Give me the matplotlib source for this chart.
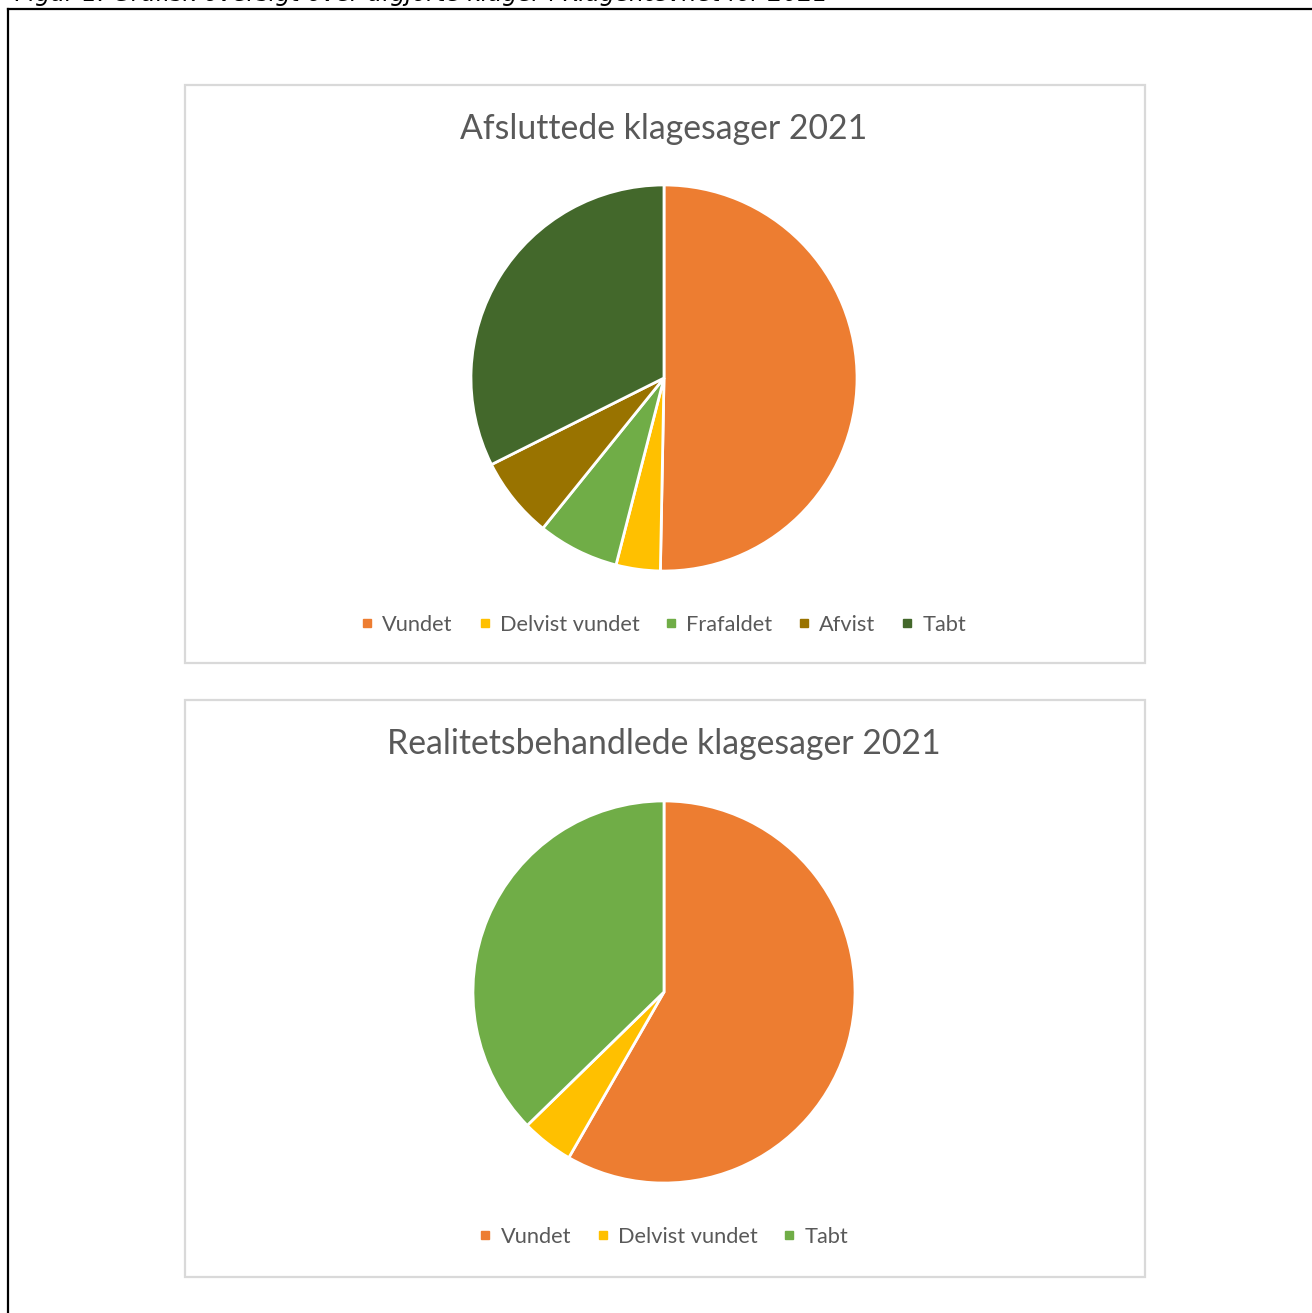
import matplotlib.pyplot as plt
from matplotlib.patches import Rectangle
from matplotlib.lines import Line2D

W, H = 1312, 1313
TEXT_GRAY = "#595959"
BORDER = "#d9d9d9"
FONT = ["Lato", "DejaVu Sans"]

# data (shares, percent)
labels_1 = ["Vundet", "Delvist vundet", "Frafaldet", "Afvist", "Tabt"]
values_1 = [50.3, 3.7, 6.8, 6.8, 32.4]
colors_1 = ["#ed7d31", "#ffc000", "#70ad47", "#997300", "#43682b"]

labels_2 = ["Vundet", "Delvist vundet", "Tabt"]
values_2 = [58.3, 4.4, 37.3]
colors_2 = ["#ed7d31", "#ffc000", "#70ad47"]

caption = "Figur 1: Grafisk oversigt over afgjorte klager i Klagenævnet for 2021"
title_1 = "Afsluttede klagesager 2021"
title_2 = "Realitetsbehandlede klagesager 2021"


def fx(px):
    return px / W


def fy(py):
    return 1 - py / H


fig = plt.figure(figsize=(W / 100, H / 100), dpi=100)
fig.patch.set_facecolor("white")

# outer frame and the caption, cut off at the top edge as in the source page
fig.add_artist(Line2D([fx(8), fx(8)], [fy(9), fy(1320)], color="black", lw=1.6))
fig.add_artist(Line2D([fx(8), fx(1320)], [fy(9), fy(9)], color="black", lw=1.6))
fig.text(fx(15), fy(1), caption, fontsize=17, style="italic", va="baseline",
         family="DejaVu Sans", color="black")


def panel(top, bottom, title, labels, values, colors, cy, r, legend_y):
    fig.add_artist(Rectangle((fx(185), fy(bottom)), fx(1145) - fx(185), fy(top) - fy(bottom),
                             transform=fig.transFigure, fill=False, ec=BORDER, lw=1.6))
    fig.text(fx(664), fy(top + 44), title, fontsize=24.3, ha="center", va="center",
             color=TEXT_GRAY, family=FONT)
    ax = fig.add_axes([fx(664 - r), fy(cy + r), fx(2 * r), fy(cy - r) - fy(cy + r)])
    ax.pie(values, colors=colors, startangle=90, counterclock=False, radius=1,
           wedgeprops=dict(edgecolor="white", linewidth=2))
    ax.set_xlim(-1.005, 1.005)
    ax.set_ylim(-1.005, 1.005)
    ax.set_aspect("equal")
    ax.axis("off")
    handles = [Line2D([], [], marker="s", ls="", color=c, markersize=6) for c in colors]
    fig.legend(handles, labels, loc="center", bbox_to_anchor=(fx(664), fy(legend_y)),
               ncol=len(labels), frameon=False, handlelength=0.5, handletextpad=0.45,
               columnspacing=1.2, prop=dict(family=FONT, size=15.7), labelcolor=TEXT_GRAY)


panel(85, 663, title_1, labels_1, values_1, colors_1, 378, 194, 625)
panel(700, 1277, title_2, labels_2, values_2, colors_2, 992, 192, 1237)

fig.savefig("out.png", dpi=100)
